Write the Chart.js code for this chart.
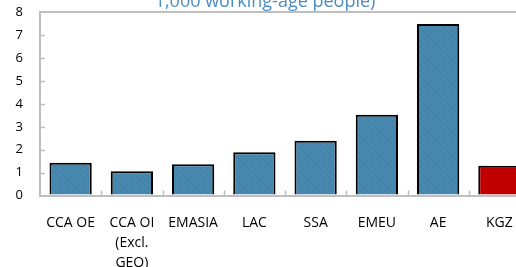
<!DOCTYPE html>
<html>
<head>
<meta charset="utf-8">
<script src="https://cdn.jsdelivr.net/npm/chart.js@4/dist/chart.umd.min.js"></script>
<style>
  html, body { margin: 0; padding: 0; background: #fff; }
  #wrap { position: relative; width: 516px; height: 267px; overflow: hidden; }
  #c { position: absolute; left: 0; top: -20px; }
</style>
</head>
<body>
<div id="wrap"><canvas id="c" width="530" height="290"></canvas></div>
<script>
const titleText = '1,000 working-age people)';
const categories = [
  'CCA OE',
  ['CCA OI', '(Excl.', 'GEO)'],
  'EMASIA',
  'LAC',
  'SSA',
  'EMEU',
  'AE',
  'KGZ'
];
const values = [1.43, 1.06, 1.36, 1.89, 2.39, 3.53, 7.49, 1.30];
const highlight = [false, false, false, false, false, false, false, true];
const yTicks = [0, 1, 2, 3, 4, 5, 6, 7, 8];

function makeHatch() {
  const p = document.createElement('canvas');
  p.width = 6; p.height = 6;
  const g = p.getContext('2d');
  g.fillStyle = '#4A89AF';
  g.fillRect(0, 0, 6, 6);
  g.strokeStyle = '#4180A7';
  g.lineWidth = 1.2;
  g.beginPath();
  g.moveTo(-1, -1); g.lineTo(7, 7);
  g.moveTo(-4, 2); g.lineTo(2, 8);
  g.moveTo(2, -4); g.lineTo(8, 2);
  g.stroke();
  return document.getElementById('c').getContext('2d').createPattern(p, 'repeat');
}
const hatch = makeHatch();
const bgColors = highlight.map(h => h ? '#C00000' : hatch);

const axisGray = '#BFBFBF';

const tickMarks = {
  id: 'tickMarks',
  afterDraw(chart) {
    const ctx = chart.ctx;
    const x = chart.scales.x, y = chart.scales.y;
    const area = chart.chartArea;
    ctx.save();
    ctx.strokeStyle = axisGray;
    ctx.lineWidth = 1.5;
    ctx.beginPath();
    yTicks.forEach(v => {
      if (v === 0 || v === yTicks[yTicks.length - 1]) return;
      const py = Math.round(y.getPixelForValue(v)) + 0.5;
      ctx.moveTo(area.left, py);
      ctx.lineTo(area.left + 5, py);
    });
    for (let i = 1; i < categories.length; i++) {
      const px = Math.round((x.getPixelForValue(i - 1) + x.getPixelForValue(i)) / 2) + 0.5;
      ctx.moveTo(px, area.bottom);
      ctx.lineTo(px, area.bottom - 5);
    }
    ctx.stroke();
    ctx.restore();
  }
};

new Chart(document.getElementById('c'), {
  type: 'bar',
  data: {
    labels: categories,
    datasets: [{
      data: values,
      backgroundColor: bgColors,
      borderColor: '#000000',
      borderWidth: 2,
      barPercentage: 0.69,
      categoryPercentage: 1.0
    }]
  },
  options: {
    responsive: false,
    animation: false,
    devicePixelRatio: 1,
    layout: { padding: { left: 0, right: 0, top: 0, bottom: 0 } },
    plugins: {
      legend: { display: false },
      tooltip: { enabled: false },
      title: {
        display: true,
        text: titleText,
        color: '#4A8CC4',
        font: { family: 'Open Sans', size: 18, weight: 'normal', lineHeight: 1.1 },
        padding: { top: 12.1, bottom: 0.4 }
      }
    },
    scales: {
      x: {
        grid: { display: false, drawTicks: false },
        border: { display: true, color: axisGray, width: 2 },
        ticks: {
          color: '#000',
          font: { family: 'Open Sans', size: 14, lineHeight: 1.45 },
          padding: 17,
          maxRotation: 0,
          autoSkip: false
        },
        afterFit(s) { s.height = 74.5; }
      },
      y: {
        min: 0, max: 8,
        afterBuildTicks(s) { s.ticks = yTicks.map(v => ({ value: v })); },
        grid: {
          drawTicks: false,
          lineWidth: 2,
          color: (c) => (c.tick && c.tick.value === 8) ? axisGray : 'rgba(0,0,0,0)'
        },
        border: { display: true, color: axisGray, width: 2 },
        ticks: {
          color: '#000',
          font: { family: 'Open Sans', size: 13 },
          padding: 17
        },
        afterFit(s) { s.width = 40; }
      }
    }
  },
  plugins: [tickMarks]
});
</script>
</body>
</html>
